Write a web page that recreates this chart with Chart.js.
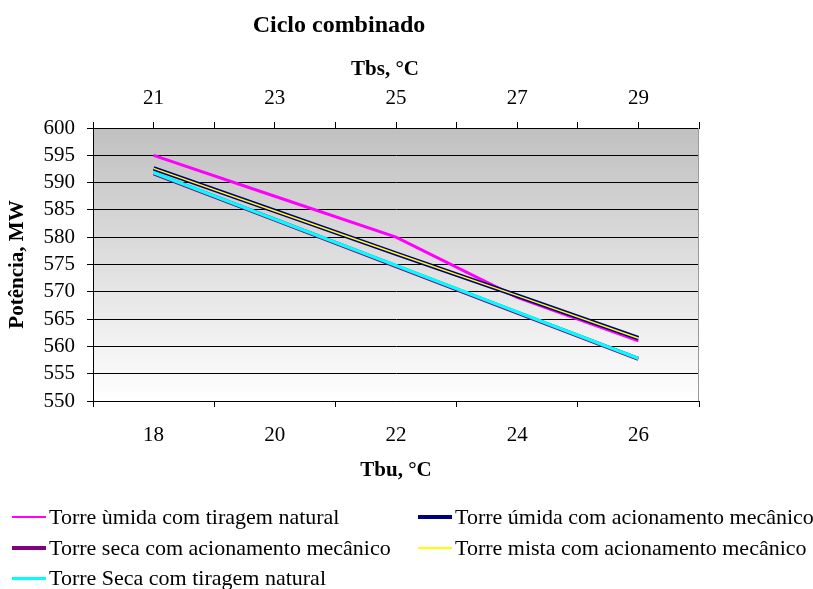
<!DOCTYPE html>
<html>
<head>
<meta charset="utf-8">
<script src="https://cdn.jsdelivr.net/npm/chart.js@4.4.1/dist/chart.umd.min.js"></script>
<style>
  html, body { margin: 0; padding: 0; background: #fff; }
  #wrap { position: relative; width: 813px; height: 589px; font-family: "Liberation Serif", "Times New Roman", serif; color: #000; }
  .txt { position: absolute; white-space: nowrap; text-align: center; font-weight: bold; }
  #title { left: 0; width: 678px; top: 10px; font-size: 24px; line-height: 28px; }
  #topTitle { left: 285px; width: 200px; top: 56.3px; font-size: 21px; line-height: 25px; }
  #legend { position: absolute; left: 0; top: 0; width: 813px; height: 589px; pointer-events: none; font-size: 22px; }
  .item { position: absolute; display: flex; align-items: center; white-space: nowrap; height: 30px; }
  .swatch { width: 34px; margin-right: 3px; }
</style>
</head>
<body>
<div id="wrap">
  <canvas id="chart1" width="813" height="589"></canvas>
  <div class="txt" id="title">Ciclo combinado</div>
  <div class="txt" id="topTitle">Tbs, °C</div>
  <div id="legend"></div>
</div>
<script>
// Tbu (eixo inferior) e Tbs (eixo superior)
const tbuLabels = ['18', '20', '22', '24', '26'];
const tbsTicks = [21, 23, 25, 27, 29];
const tbsMin = 20;
const tbsMax = 30;

// Potência, MW
const umidaNatural = [595.0, 587.5, 580.0, 569.0, 561.0];
const umidaMecanico = [592.6, 584.8, 577.0, 569.3, 561.5];
const secaMecanico = [591.7, 583.2, 574.7, 566.2, 557.7];
const mistaMecanico = [592.6, 584.8, 577.0, 569.3, 561.5];
const secaNatural = [591.8, 583.3, 574.8, 566.3, 557.8];

const seriesNames = [
  'Torre ùmida com tiragem natural',
  'Torre úmida com acionamento mecânico',
  'Torre seca com acionamento mecânico',
  'Torre mista com acionamento mecânico',
  'Torre Seca com tiragem natural'
];

const serif = "'Liberation Serif', 'Times New Roman', serif";

const bgPlugin = {
  id: 'plotBg',
  beforeDraw(chart) {
    const { ctx, chartArea: a } = chart;
    const g = ctx.createLinearGradient(0, a.top, 0, a.bottom);
    g.addColorStop(0, '#c0c0c0');
    g.addColorStop(1, '#ffffff');
    ctx.save();
    ctx.fillStyle = g;
    ctx.fillRect(a.left, a.top, a.right - a.left, a.bottom - a.top);
    ctx.restore();
  },
  afterDraw(chart) {
    const { ctx, chartArea: a } = chart;
    ctx.save();
    ctx.strokeStyle = '#9a9a9a';
    ctx.lineWidth = 1;
    ctx.beginPath();
    ctx.moveTo(a.right - 0.5, a.top);
    ctx.lineTo(a.right - 0.5, a.bottom);
    ctx.stroke();
    ctx.restore();
  }
};

const mk = (label, data, color, width, order) => ({
  label, data, borderColor: color, backgroundColor: color, borderWidth: width,
  pointRadius: 0, tension: 0, fill: false, order, xAxisID: 'x', yAxisID: 'y'
});

const datasets = [
  mk(seriesNames[0], umidaNatural, '#ff00ff', 3, 5),
  mk(seriesNames[1], umidaMecanico, '#000080', 4.5, 4),
  mk(seriesNames[2], secaMecanico, '#800080', 4, 3),
  mk(seriesNames[3], mistaMecanico, '#ffff00', 1.5, 2),
  mk(seriesNames[4], secaNatural, '#00ffff', 3.2, 1)
];
const legendWidths = [2, 4, 4, 1.5, 3];

const ctx = document.getElementById('chart1').getContext('2d');
const chart = new Chart(ctx, {
  type: 'line',
  data: { labels: tbuLabels, datasets },
  options: {
    responsive: false,
    animation: false,
    layout: { padding: { top: 75, left: 0, right: 114, bottom: 101.9 } },
    plugins: {
      legend: { display: false },
      tooltip: { enabled: false },
      title: { display: false }
    },
    scales: {
      x: {
        type: 'category',
        position: 'bottom',
        offset: true,
        grid: { offset: true, drawOnChartArea: false, drawTicks: true, tickLength: 6, color: '#000' },
        border: { display: true, color: '#000', width: 1 },
        ticks: { color: '#000', padding: 15.4, font: { family: serif, size: 21 }, maxRotation: 0 },
        title: {
          display: true, text: 'Tbu, °C', color: '#000',
          font: { family: serif, size: 21, weight: 'bold' },
          padding: { top: -5.1, bottom: 4 }
        }
      },
      x2: {
        type: 'linear',
        position: 'top',
        min: tbsMin,
        max: tbsMax,
        offset: false,
        grid: { drawOnChartArea: false, drawTicks: true, tickLength: 6, color: '#000' },
        border: { display: true, color: '#000', width: 1 },
        ticks: {
          stepSize: 1, autoSkip: false, color: '#000', padding: 10.9, maxRotation: 0,
          font: { family: serif, size: 21 },
          callback: (v) => tbsTicks.includes(v) ? String(v) : ''
        },
        title: { display: false }
      },
      y: {
        type: 'linear',
        position: 'left',
        min: 550,
        max: 600,
        grid: { color: '#000', lineWidth: 1, drawTicks: true, tickLength: 6 },
        border: { display: true, color: '#000', width: 1 },
        ticks: { stepSize: 5, autoSkip: false, color: '#000', padding: 12, font: { family: serif, size: 21 } },
        title: {
          display: true, text: 'Potência, MW', color: '#000',
          font: { family: serif, size: 21, weight: 'bold' },
          padding: { top: 5.4, bottom: 0.9 }
        }
      }
    }
  },
  plugins: [bgPlugin]
});

// legenda em duas colunas
const legend = document.getElementById('legend');
const colX = [12, 418];
const rowY = [517, 548, 578];
chart.data.datasets.forEach((ds, i) => {
  const item = document.createElement('div');
  item.className = 'item';
  item.style.left = colX[i % 2] + 'px';
  item.style.top = (rowY[Math.floor(i / 2)] - 15) + 'px';
  const sw = document.createElement('span');
  sw.className = 'swatch';
  sw.style.height = legendWidths[i] + 'px';
  sw.style.background = ds.borderColor;
  const txt = document.createElement('span');
  txt.textContent = ds.label;
  item.appendChild(sw);
  item.appendChild(txt);
  legend.appendChild(item);
});
</script>
</body>
</html>
